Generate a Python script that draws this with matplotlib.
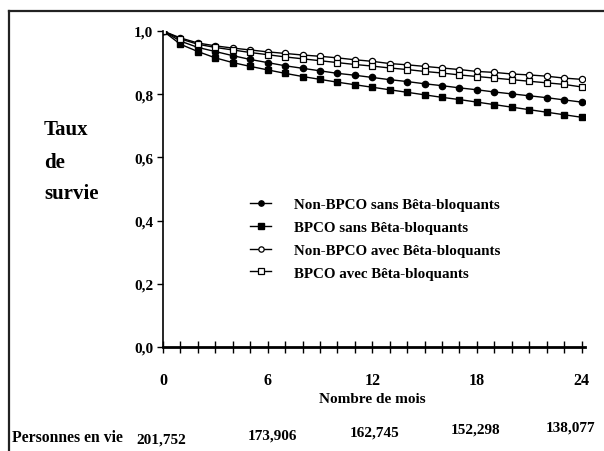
import matplotlib
matplotlib.use("Agg")
import matplotlib.pyplot as plt
from matplotlib.lines import Line2D

plt.rcParams['font.family'] = ['Liberation Serif', 'DejaVu Serif']
plt.rcParams['font.weight'] = 'bold'

months = list(range(0, 25))
non_bpco_sans = [1.0, 0.968, 0.948, 0.935, 0.922, 0.910, 0.900, 0.890, 0.882, 0.874,
                 0.866, 0.860, 0.853, 0.846, 0.840, 0.833, 0.827, 0.820, 0.814,
                 0.807, 0.801, 0.795, 0.789, 0.782, 0.775]
bpco_sans = [1.0, 0.958, 0.935, 0.915, 0.900, 0.888, 0.877, 0.866, 0.856, 0.847,
             0.838, 0.830, 0.822, 0.814, 0.806, 0.798, 0.790, 0.783, 0.775,
             0.767, 0.759, 0.751, 0.743, 0.735, 0.727]
non_bpco_avec = [1.0, 0.978, 0.962, 0.953, 0.946, 0.940, 0.934, 0.929, 0.924, 0.920,
                 0.915, 0.909, 0.904, 0.897, 0.893, 0.888, 0.883, 0.878, 0.872,
                 0.869, 0.864, 0.861, 0.857, 0.851, 0.847]
bpco_avec = [1.0, 0.975, 0.958, 0.948, 0.940, 0.932, 0.925, 0.918, 0.912, 0.906,
             0.900, 0.894, 0.889, 0.883, 0.878, 0.872, 0.867, 0.861, 0.856,
             0.851, 0.846, 0.841, 0.836, 0.831, 0.823]

series_labels = ["Non-BPCO sans Bêta-bloquants", "BPCO sans Bêta-bloquants",
                 "Non-BPCO avec Bêta-bloquants", "BPCO avec Bêta-bloquants"]
xtick_vals = [0, 6, 12, 18, 24]
ytick_vals = [0.0, 0.2, 0.4, 0.6, 0.8, 1.0]
ytick_labels = ["0,0", "0,2", "0,4", "0,6", "0,8", "1,0"]
at_risk = ["201,752", "173,906", "162,745", "152,298", "138,077"]

W, H = 604, 452
fig = plt.figure(figsize=(W / 100, H / 100), dpi=100)

# frame lines (top and left)
fig.add_artist(Line2D([9 / W, 9 / W], [0, 1 - 12 / H], color='#222222', lw=1.6))
fig.add_artist(Line2D([9 / W, 1], [1 - 12 / H, 1 - 12 / H], color='#222222', lw=1.6))

x0, x1 = 163, 585
y0, y1 = 348, 32
ax = fig.add_axes([x0 / W, 1 - y0 / H, (x1 - x0) / W, (y0 - y1) / H])
ax.set_xlim(0, 24.2)
ax.set_ylim(0, 1.0)

ms = 4.5
ax.plot(months, non_bpco_sans, color='black', lw=1.0, marker='o', ms=ms,
        mfc='black', mec='black', label=series_labels[0])
ax.plot(months, bpco_sans, color='black', lw=1.0, marker='s', ms=ms,
        mfc='black', mec='black', label=series_labels[1])
ax.plot(months, non_bpco_avec, color='black', lw=1.0, marker='o', ms=ms,
        mfc='white', mec='black', mew=0.9, label=series_labels[2])
ax.plot(months, bpco_avec, color='black', lw=1.0, marker='s', ms=ms,
        mfc='white', mec='black', mew=0.9, label=series_labels[3])

for s in ['top', 'right']:
    ax.spines[s].set_visible(False)
ax.spines['left'].set_linewidth(1.2)
ax.spines['bottom'].set_linewidth(2.0)

ax.set_xticks(months)
ax.set_xticklabels([])
ax.tick_params(axis='x', direction='inout', length=8, width=1.0)
ax.set_yticks(ytick_vals)
ax.set_yticklabels(ytick_labels, fontsize=11, fontweight='bold')
ax.tick_params(axis='y', direction='out', length=4, width=1.0, pad=3)

for v in xtick_vals:
    ax.text(v, -0.105, str(v), ha='center', va='center', fontsize=11.5,
            fontweight='bold', transform=ax.transData, clip_on=False)

ax.text(12, -0.163, "Nombre de mois", ha='center', va='center', fontsize=11,
        fontweight='bold', clip_on=False)

fig.text(44 / W, 1 - 130 / H, "Taux", fontsize=15, fontweight='bold', va='center')
fig.text(44 / W, 1 - 163 / H, "de", fontsize=15, fontweight='bold', va='center')
fig.text(44 / W, 1 - 194 / H, "survie", fontsize=15, fontweight='bold', va='center')

fig.text(12 / W, 1 - 438 / H, "Personnes en vie", fontsize=11.3, fontweight='bold', va='center')
risk_pos = [(161, 440), (272, 436), (375, 433), (476, 430), (571, 428)]
for lbl, (px, py) in zip(at_risk, risk_pos):
    fig.text(px / W, 1 - py / H, lbl, fontsize=11, fontweight='bold',
             ha='center', va='center')

leg = ax.legend(loc='upper left', bbox_to_anchor=(0.175, 0.515), frameon=False,
                handlelength=1.4, handletextpad=1.5, labelspacing=0.62,
                prop={'size': 10.8, 'weight': 'bold'}, markerscale=0.85)

fig.savefig("out.png", dpi=100)
